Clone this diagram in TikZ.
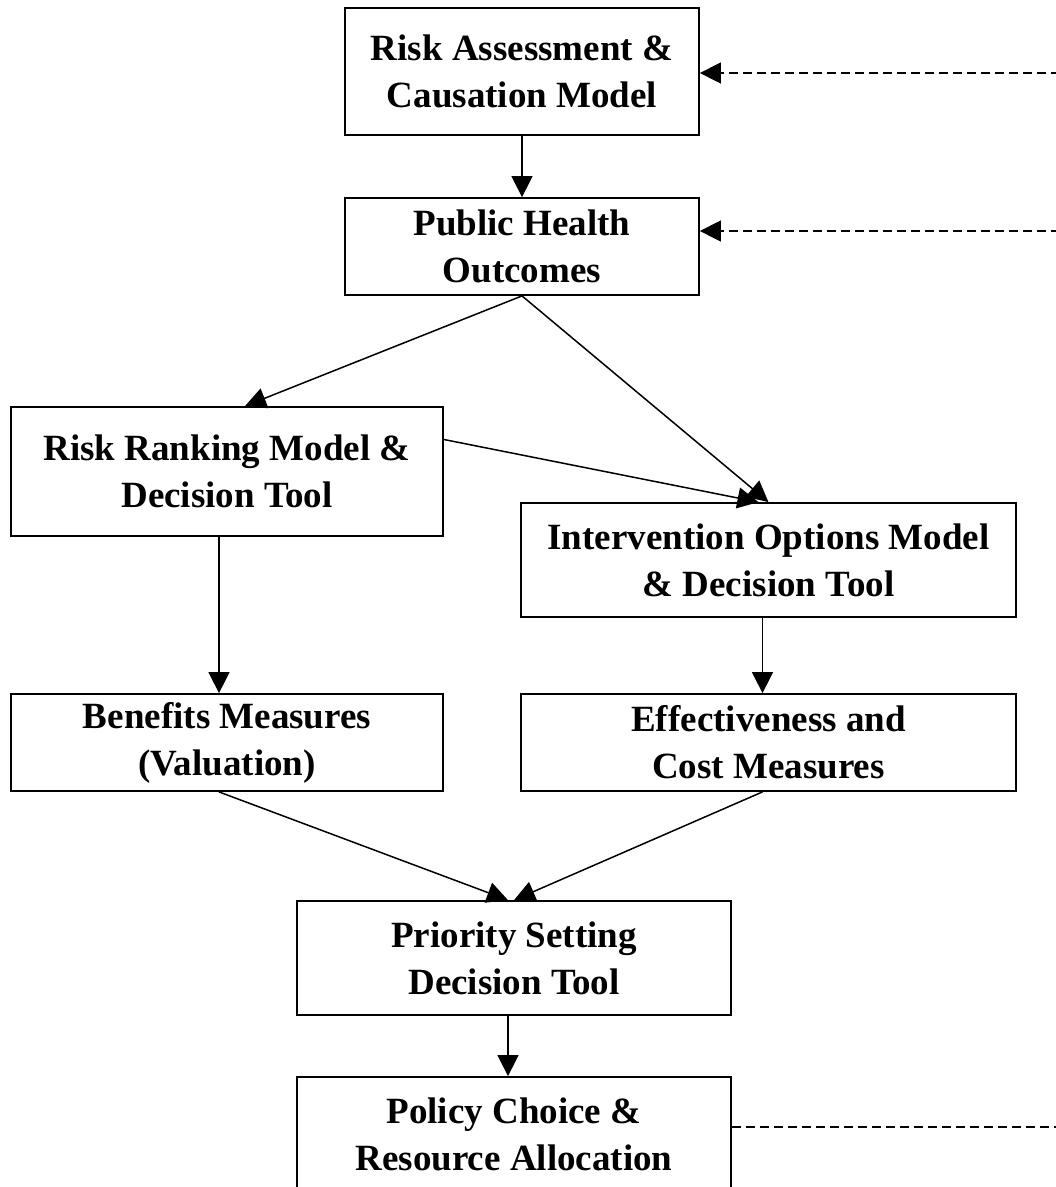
\documentclass[tikz,border=0pt]{standalone}
\usepackage{fontspec}
\setmainfont{Liberation Serif}
\usetikzlibrary{arrows.meta}

\begin{document}
\begin{tikzpicture}[x=1pt,y=-1pt,
  box/.style={draw, line width=1.8pt, align=center, inner sep=0pt,
    font=\bfseries\fontsize{37}{47}\selectfont},
  flow/.style={line width=1.5pt, -{Triangle[length=21pt,width=21pt]}},
  dashline/.style={line width=1.6pt, dash pattern=on 9pt off 5pt},
  feedback/.style={dashline, -{Triangle[length=21pt,width=21pt]}}]
  % page frame (picture is cut at the bottom and right)
  \useasboundingbox (0,0) rectangle (1056,1187);
  \clip (0,0) rectangle (1056,1187);

  % model boxes
  \node[box, minimum width=354pt, minimum height=127pt] (risk) at (522,71.5)
    {Risk Assessment \&\\Causation Model};
  \node[box, minimum width=354pt, minimum height=97pt] (health) at (522,246.5)
    {Public Health\\Outcomes};
  \node[box, minimum width=432pt, minimum height=129pt] (ranking) at (227,471.5)
    {Risk Ranking Model \&\\Decision Tool};
  \node[box, minimum width=495pt, minimum height=114pt] (options) at (768.5,560)
    {Intervention Options Model\\\& Decision Tool};
  \node[box, minimum width=432pt, minimum height=97pt] (benefits) at (227,742.5)
    {Benefits Measures\\(Valuation)};
  \node[box, minimum width=495pt, minimum height=97pt] (cost) at (768.5,742.5)
    {Effectiveness and\\Cost Measures};
  \node[box, minimum width=434pt, minimum height=114pt] (priority) at (514,958)
    {Priority Setting\\Decision Tool};
  \node[box, minimum width=434pt, minimum height=114pt] (policy) at (514,1134)
    {Policy Choice \&\\Resource Allocation};

  % main flow
  \draw[flow] (risk.south) -- (health.north);
  \draw[flow] (health.south) -- ([xshift=18pt]ranking.north);
  \draw[flow] (health.south) -- (options.north);
  \draw[flow] ([yshift=32pt]ranking.east) -- ([xshift=-10pt]options.north);
  \draw[flow] ([xshift=-8pt]ranking.south) -- ([xshift=-8pt]benefits.north);
  \draw[flow] ([xshift=-6pt]options.south) -- ([xshift=-6pt]cost.north);
  \draw[flow] ([xshift=-8pt]benefits.south) -- ([xshift=-6pt]priority.north);
  \draw[flow] ([xshift=-6pt]cost.south) -- (priority.north);
  \draw[flow] ([xshift=-6pt]priority.south) -- ([xshift=-6pt]policy.north);

  % feedback lines running off the right edge
  \coordinate (fb1) at (1060,73);
  \coordinate (fb2) at (1060,231);
  \coordinate (fb3) at (1060,1127);
  \draw[feedback] (fb1) -- (fb1 -| risk.east);
  \draw[feedback] (fb2) -- (fb2 -| health.east);
  \draw[dashline] (fb3 -| policy.east) -- (fb3);
\end{tikzpicture}
\end{document}
